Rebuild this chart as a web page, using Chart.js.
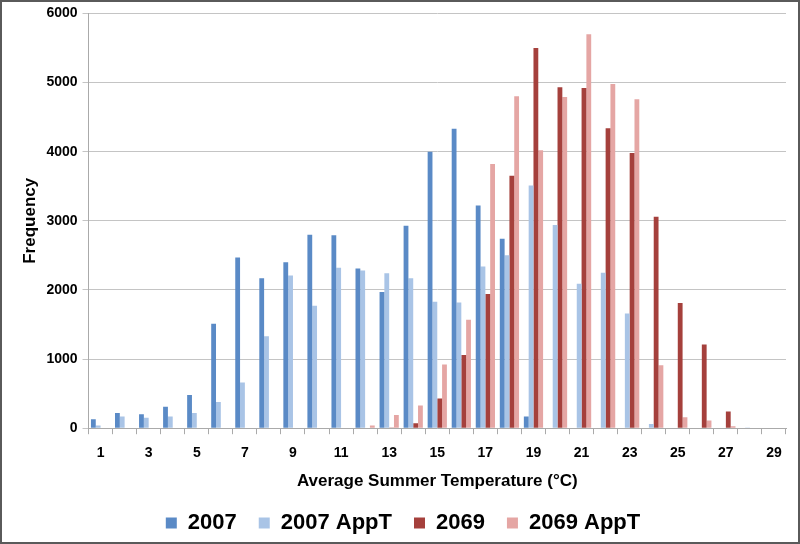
<!DOCTYPE html>
<html>
<head>
<meta charset="utf-8">
<script src="https://cdn.jsdelivr.net/npm/chart.js@4.4.1/dist/chart.umd.min.js"></script>
<style>
  html, body { margin: 0; padding: 0; background: #fff; }
  #wrap { width: 800px; height: 544px; position: relative; }
</style>
</head>
<body>
<div id="wrap"><canvas id="chart" width="800" height="544"></canvas></div>
<script>
// Catégories (température moyenne estivale, °C)
const temps = ['1','2','3','4','5','6','7','8','9','10','11','12','13','14','15',
               '16','17','18','19','20','21','22','23','24','25','26','27','28','29'];

// Fréquences
const freq2007     = [130, 220, 200, 310, 480, 1510, 2470, 2170, 2400, 2800, 2790, 2310, 1970, 2930, 4000,
                      4330, 3220, 2740, 170, 0, 0, 0, 0, 0, 0, 0, 0, 0, 0];
const freq2007AppT = [40, 170, 150, 170, 220, 380, 660, 1330, 2210, 1770, 2320, 2280, 2240, 2170, 1830,
                      1820, 2340, 2500, 3510, 2940, 2090, 2250, 1660, 60, 0, 0, 0, 10, 0];
const freq2069     = [0, 0, 0, 0, 0, 0, 0, 0, 0, 0, 0, 0, 10, 70, 430,
                      1060, 1940, 3650, 5500, 4930, 4920, 4340, 3980, 3060, 1810, 1210, 240, 0, 0];
const freq2069AppT = [0, 0, 0, 0, 0, 0, 0, 0, 0, 0, 0, 40, 190, 330, 920,
                      1570, 3820, 4800, 4020, 4790, 5700, 4980, 4760, 910, 160, 110, 30, 0, 0];

const yTicks = [0, 1000, 2000, 3000, 4000, 5000, 6000];

const FONT = '"Liberation Sans", Arial, sans-serif';

// Cadre gris autour de l'image
const borderPlugin = {
    id: 'frame',
    afterDraw(chart) {
        const ctx = chart.ctx;
        ctx.save();
        ctx.strokeStyle = '#5a5a5a';
        ctx.lineWidth = 2;
        ctx.strokeRect(1, 1, chart.width - 2, chart.height - 2);
        ctx.restore();
    }
};

function ds(label, data, color) {
    return {
        label: label,
        data: data,
        backgroundColor: color,
        borderWidth: 0,
        barPercentage: 1,
        categoryPercentage: 0.8
    };
}

const ctx = document.getElementById('chart').getContext('2d');
new Chart(ctx, {
    type: 'bar',
    data: {
        labels: temps,
        datasets: [
            ds('2007', freq2007, '#5a8ac6'),
            ds('2007 AppT', freq2007AppT, '#a9c4e6'),
            ds('2069', freq2069, '#a5403c'),
            ds('2069 AppT', freq2069AppT, '#e5a6a4')
        ]
    },
    options: {
        responsive: false,
        animation: false,
        layout: { padding: { top: 12, right: 14, left: 20, bottom: 0 } },
        plugins: {
            tooltip: { enabled: false },
            legend: {
                position: 'bottom',
                labels: {
                    color: '#000',
                    font: { family: FONT, size: 22, weight: 'bold' },
                    boxWidth: 11,
                    boxHeight: 11,
                    padding: 22
                }
            }
        },
        scales: {
            x: {
                grid: {
                    offset: true,
                    drawOnChartArea: false,
                    drawTicks: true,
                    tickLength: 6,
                    color: '#aaa'
                },
                border: { color: '#aaa' },
                ticks: {
                    autoSkip: false,
                    maxRotation: 0,
                    color: '#000',
                    padding: 11,
                    font: { family: FONT, size: 14, weight: 'bold' },
                    callback: function(val, i) { return i % 2 === 0 ? temps[i] : ''; }
                },
                title: {
                    display: true,
                    text: 'Average Summer Temperature (°C)',
                    color: '#000',
                    font: { family: FONT, size: 17, weight: 'bold', lineHeight: 1 },
                    padding: { top: 0, bottom: 0 }
                }
            },
            y: {
                min: 0,
                max: 6000,
                afterBuildTicks: function(axis) {
                    axis.ticks = yTicks.map(v => ({ value: v }));
                },
                grid: { color: '#c4c4c4', tickLength: 6 },
                border: { color: '#aaa' },
                ticks: {
                    color: '#000',
                    padding: 5,
                    font: { family: FONT, size: 14, weight: 'bold' },
                    callback: function(v) { return String(v); }
                },
                title: {
                    display: true,
                    text: 'Frequency',
                    color: '#000',
                    font: { family: FONT, size: 17, weight: 'bold' },
                    padding: { top: 0, bottom: 1 }
                }
            }
        }
    },
    plugins: [borderPlugin]
});
</script>
</body>
</html>
